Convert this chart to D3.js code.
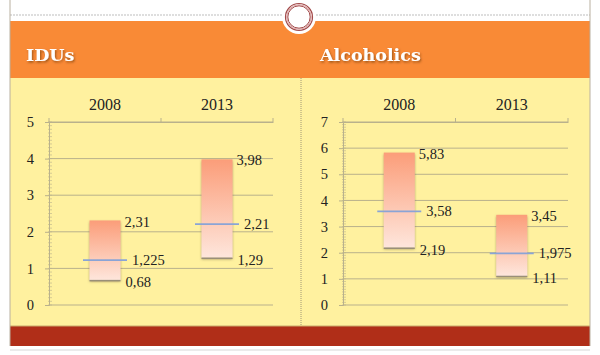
<!DOCTYPE html>
<html>
<head>
<meta charset="utf-8">
<script src="https://cdn.jsdelivr.net/npm/d3@7"></script>
<style>
  body { margin: 0; background: #fff; }
  svg { display: block; }
  .serif { font-family: 'Liberation Serif', 'Times New Roman', serif; }
</style>
</head>
<body>
<svg id="chart" width="600" height="355"></svg>
<script>
// ── DATA ──────────────────────────────────────────────────────────
const years = ['2008', '2013'];

const iduHigh = [2.31, 3.98];
const iduMid  = [1.225, 2.21];
const iduLow  = [0.68, 1.29];
const iduTicks = [0, 1, 2, 3, 4, 5];

const alcHigh = [5.83, 3.45];
const alcMid  = [3.58, 1.975];
const alcLow  = [2.19, 1.11];
const alcTicks = [0, 1, 2, 3, 4, 5, 6, 7];

const titles = ['IDUs', 'Alcoholics'];

// ── SETUP ─────────────────────────────────────────────────────────
const svg = d3.select('#chart');
const defs = svg.append('defs');

const grad = defs.append('linearGradient')
  .attr('id', 'barFill').attr('x1', '0%').attr('y1', '0%').attr('x2', '0%').attr('y2', '100%');
grad.append('stop').attr('offset', '0%').attr('stop-color', '#fb9d79');
grad.append('stop').attr('offset', '100%').attr('stop-color', '#fee6dc');

const shadow = defs.append('filter').attr('id', 'txtShadow')
  .attr('x', '-20%').attr('y', '-20%').attr('width', '140%').attr('height', '160%');
shadow.append('feDropShadow')
  .attr('dx', 1).attr('dy', 1.5).attr('stdDeviation', 1)
  .attr('flood-color', '#5a2a00').attr('flood-opacity', 0.6);

const barShadow = defs.append('filter').attr('id', 'barShadow')
  .attr('x', '-20%').attr('y', '-10%').attr('width', '140%').attr('height', '125%');
barShadow.append('feDropShadow')
  .attr('dx', 0).attr('dy', 1.5).attr('stdDeviation', 0.8)
  .attr('flood-color', '#6b5a3a').attr('flood-opacity', 0.55);

const fmt = v => String(v).replace('.', ',');

// ── SLIDE FRAME ───────────────────────────────────────────────────
svg.append('line').attr('x1', 10).attr('x2', 590).attr('y1', 15).attr('y2', 15)
  .attr('stroke', '#bdbdbd').attr('stroke-width', 1).attr('stroke-dasharray', '2,1');

svg.append('rect').attr('x', 10).attr('y', 21).attr('width', 580).attr('height', 57)
  .attr('fill', '#f98a36');
svg.append('rect').attr('x', 10).attr('y', 78).attr('width', 580).attr('height', 248)
  .attr('fill', '#fff19f');
svg.append('rect').attr('x', 10).attr('y', 326).attr('width', 580).attr('height', 20)
  .attr('fill', '#b02e18');

svg.append('line').attr('x1', 10).attr('x2', 590).attr('y1', 326).attr('y2', 326)
  .attr('stroke', '#c9a96a').attr('stroke-width', 1);
svg.append('line').attr('x1', 10).attr('x2', 590).attr('y1', 350).attr('y2', 350)
  .attr('stroke', '#e4e4e4').attr('stroke-width', 1.5);
[10, 590].forEach(x => {
  svg.append('line').attr('x1', x).attr('x2', x).attr('y1', 0).attr('y2', 346)
    .attr('stroke', '#b9b0a0').attr('stroke-width', 1);
});

// divider
svg.append('line').attr('x1', 301).attr('x2', 301).attr('y1', 78).attr('y2', 326)
  .attr('stroke', '#8a8470').attr('stroke-width', 0.8).attr('stroke-dasharray', '1,1');

// badge circle
svg.append('circle').attr('cx', 299).attr('cy', 17).attr('r', 17).attr('fill', '#fff');
svg.append('circle').attr('cx', 299).attr('cy', 17).attr('r', 13.5)
  .attr('fill', 'none').attr('stroke', '#a24a4a').attr('stroke-width', 1.2);
svg.append('circle').attr('cx', 299).attr('cy', 17).attr('r', 12.3)
  .attr('fill', 'none').attr('stroke', '#dca3a3').attr('stroke-width', 1);
svg.append('circle').attr('cx', 299).attr('cy', 17).attr('r', 11.2)
  .attr('fill', 'none').attr('stroke', '#a24a4a').attr('stroke-width', 1);

// ── PANELS ────────────────────────────────────────────────────────
const panels = [
  { title: titles[0], titleX: 26, x0: 49,  x1: 273, high: iduHigh, mid: iduMid, low: iduLow, ticks: iduTicks },
  { title: titles[1], titleX: 320, x0: 343, x1: 568, high: alcHigh, mid: alcMid, low: alcLow, ticks: alcTicks }
];

const yTop = 122, yBottom = 305;
const barW = 31, medHalf = 22;
const gridColor = '#b9b18c';

panels.forEach(p => {
  svg.append('text')
    .attr('x', p.titleX).attr('y', 61)
    .attr('font-family', "'DejaVu Serif', serif")
    .attr('font-weight', 'bold')
    .attr('font-size', 17.5)
    .attr('fill', '#fff')
    .attr('filter', 'url(#txtShadow)')
    .text(p.title);

  const yMax = d3.max(p.ticks);
  const y = d3.scaleLinear().domain([0, yMax]).range([yBottom, yTop]);
  const x = d3.scaleBand().domain(years).range([p.x0, p.x1]);

  const g = svg.append('g');

  // gridlines
  g.selectAll('.grid').data(p.ticks).enter().append('line')
    .attr('x1', p.x0).attr('x2', p.x1)
    .attr('y1', d => y(d)).attr('y2', d => y(d))
    .attr('stroke', gridColor).attr('stroke-width', 1);

  // minor ticks on the value axis
  const minor = d3.range(0, yMax * 10 + 1).map(i => i / 10);
  g.selectAll('.minor').data(minor).enter().append('line')
    .attr('x1', p.x0 - 1).attr('x2', p.x0 + 3)
    .attr('y1', d => y(d)).attr('y2', d => y(d))
    .attr('stroke', gridColor).attr('stroke-width', 0.6);

  // value axis
  const yAxis = g.append('g')
    .attr('transform', `translate(${p.x0},0)`)
    .call(d3.axisLeft(y).tickValues(p.ticks).tickSize(4).tickPadding(11).tickFormat(d3.format('d')));
  yAxis.attr('font-family', null);
  yAxis.select('.domain').attr('stroke', gridColor);
  yAxis.selectAll('.tick line').attr('stroke', gridColor);
  yAxis.selectAll('.tick text')
    .attr('class', 'serif')
    .attr('font-size', 14.5)
    .attr('fill', '#222');

  // category axis on top
  const xAxis = g.append('g')
    .attr('transform', `translate(0,${yTop})`)
    .call(d3.axisTop(x).tickSize(0).tickPadding(12));
  xAxis.attr('font-family', null);
  xAxis.select('.domain').attr('stroke', gridColor);
  xAxis.selectAll('.tick text')
    .attr('class', 'serif')
    .attr('font-size', 16)
    .attr('fill', '#222');
  const edges = years.map(d => x(d)).concat([p.x1]);
  g.selectAll('.catTick').data(edges).enter().append('line')
    .attr('x1', d => d).attr('x2', d => d)
    .attr('y1', yTop - 4).attr('y2', yTop)
    .attr('stroke', gridColor).attr('stroke-width', 1);

  // range boxes
  const cx = d => x(d) + x.bandwidth() / 2;
  years.forEach((yr, i) => {
    const c = cx(yr);
    g.append('rect')
      .attr('x', c - barW / 2).attr('width', barW)
      .attr('y', y(p.high[i])).attr('height', y(p.low[i]) - y(p.high[i]))
      .attr('fill', 'url(#barFill)')
      .attr('filter', 'url(#barShadow)');
    g.append('line')
      .attr('x1', c - barW / 2).attr('x2', c + barW / 2)
      .attr('y1', y(p.low[i]) + 0.5).attr('y2', y(p.low[i]) + 0.5)
      .attr('stroke', '#9a8f78').attr('stroke-width', 1.5);
    g.append('line')
      .attr('x1', c - medHalf).attr('x2', c + medHalf)
      .attr('y1', y(p.mid[i])).attr('y2', y(p.mid[i]))
      .attr('stroke', '#8aa4d6').attr('stroke-width', 1.6);

    const lbl = (tx, ty, v) => g.append('text')
      .attr('class', 'serif')
      .attr('x', tx).attr('y', ty)
      .attr('dy', '0.35em')
      .attr('font-size', 14.5)
      .attr('fill', '#222')
      .text(fmt(v));
    lbl(c + barW / 2 + 4, y(p.high[i]) + 1, p.high[i]);
    lbl(c + medHalf + 5, y(p.mid[i]), p.mid[i]);
    lbl(c + barW / 2 + 5, y(p.low[i]) + 2, p.low[i]);
  });
});
</script>
</body>
</html>
